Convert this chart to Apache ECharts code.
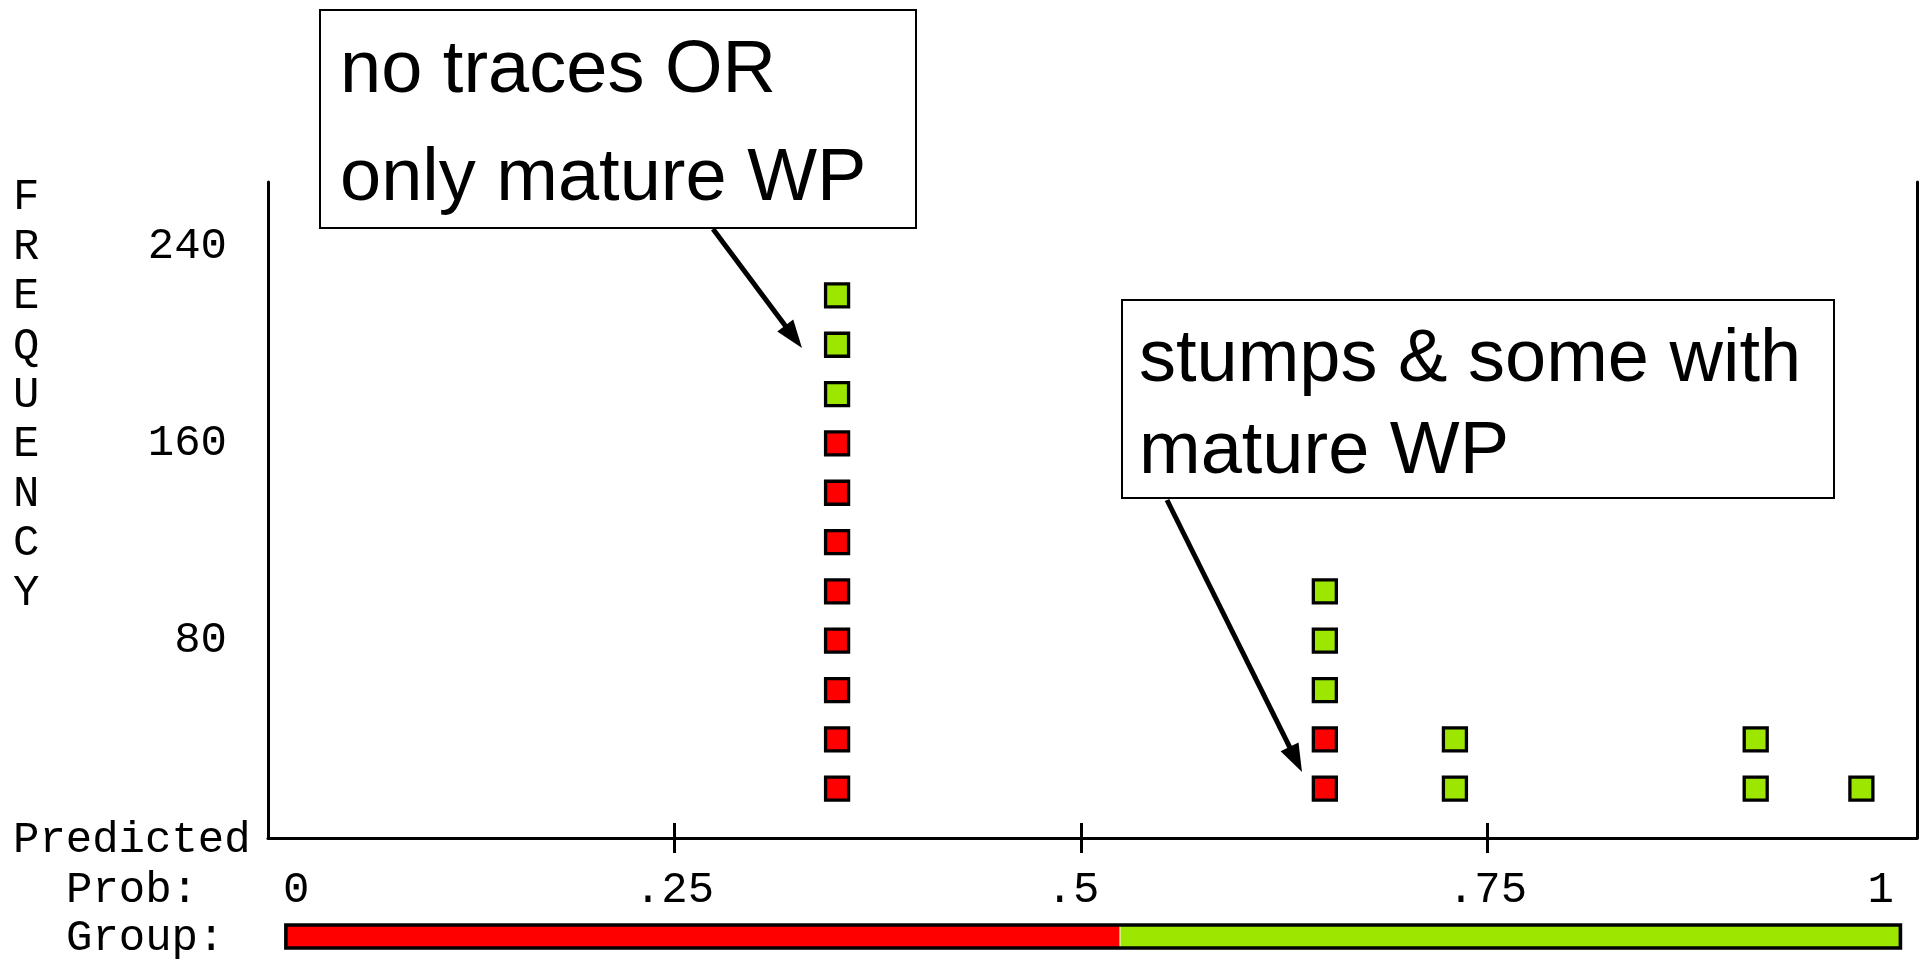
<!DOCTYPE html>
<html>
<head>
<meta charset="utf-8">
<script src="https://cdn.jsdelivr.net/npm/echarts@6/dist/echarts.min.js"></script>
<style>
  html, body { margin: 0; padding: 0; background: #fff; }
  #chart { width: 1929px; height: 961px; }
</style>
</head>
<body>
<div id="chart"></div>
<script>
// ---- data ----
const xTickValues = [0.25, 0.5, 0.75];
const xLabelValues = [0, 0.25, 0.5, 0.75, 1];
const yLabelValues = [80, 160, 240];
// each square = 20 cases
const redX   = [0.35, 0.35, 0.35, 0.35, 0.35, 0.35, 0.35, 0.35, 0.65, 0.65];
const redY   = [20, 40, 60, 80, 100, 120, 140, 160, 20, 40];
const greenX = [0.35, 0.35, 0.35, 0.65, 0.65, 0.65, 0.73, 0.73, 0.915, 0.915, 0.98];
const greenY = [180, 200, 220, 60, 80, 100, 20, 40, 20, 40, 20];
// group bar segments (predicted group along probability axis)
const groupFrom = [0.011, 0.524];
const groupTo   = [0.524, 1.004];
const groupName = ['0', '1'];
const yAxisTitle = 'FREQUENCY';
const note1 = ['no traces OR', 'only mature WP'];
const note2 = ['stumps & some with', 'mature WP'];

const RED = '#ff0000';
const GREEN = '#9de600';
const MONO = "'Liberation Mono', 'Courier New', monospace";
const SANS = "'Liberation Sans', Arial, sans-serif";
const XMAX = 1.0142;

const redData = redX.map((x, i) => [x, redY[i]]);
const greenData = greenX.map((x, i) => [x, greenY[i]]);
const groupData = groupFrom.map((f, i) => [f, groupTo[i], i]);
groupData.push([groupFrom[0], groupTo[groupTo.length - 1], 2]);

function fmtX(v) {
  if (v === 0) return '{z|0}';
  if (v === 1) return '1';
  if (v === 0.5) return '{h|.5}';
  return String(v).replace(/^0\./, '.');
}

function arrow(x0, y0, x1, y1, headLen, headHalf, w) {
  const dx = x1 - x0, dy = y1 - y0;
  const L = Math.sqrt(dx * dx + dy * dy);
  const ux = dx / L, uy = dy / L;
  const nx = -uy, ny = ux;
  const bx = x1 - ux * headLen, by = y1 - uy * headLen;
  return [
    { type: 'line', z: 50, shape: { x1: x0, y1: y0, x2: bx + ux * 2, y2: by + uy * 2 },
      style: { stroke: '#000', lineWidth: w } },
    { type: 'polygon', z: 50, shape: { points: [[x1, y1], [bx + nx * headHalf, by + ny * headHalf], [bx - nx * headHalf, by - ny * headHalf]] },
      style: { fill: '#000' } }
  ];
}

const chart = echarts.init(document.getElementById('chart'));
const monoLabel = { fontFamily: MONO, fontSize: 44, color: '#000' };

const option = {
  animation: false,
  backgroundColor: '#ffffff',
  grid: [
    { left: 268, right: 12, top: 182, bottom: 123, outerBoundsMode: 'none' },
    { left: 268, right: 12, top: 925, height: 23, outerBoundsMode: 'none' },
    { left: 268, right: 12, top: 182, bottom: 123, outerBoundsMode: 'none' }
  ],
  xAxis: [
    {
      gridIndex: 0, type: 'value', min: 0, max: XMAX,
      axisLine: { show: true, onZero: false, lineStyle: { color: '#000', width: 3 } },
      axisTick: { show: true, customValues: xTickValues, length: 15, lineStyle: { color: '#000', width: 3 } },
      axisLabel: Object.assign({
        customValues: xLabelValues, margin: 30, formatter: fmtX,
        alignMinLabel: 'left', alignMaxLabel: 'right',
        rich: {
          z: { fontFamily: MONO, fontSize: 44, color: '#000', padding: [0, 0, 0, 15] },
          h: { fontFamily: MONO, fontSize: 44, color: '#000', padding: [0, 16, 0, 0] }
        }
      }, monoLabel),
      splitLine: { show: false }
    },
    { gridIndex: 1, type: 'value', min: 0, max: XMAX, show: false },
    {
      gridIndex: 2, type: 'value', min: 0, max: XMAX, position: 'bottom',
      axisLine: { show: false },
      axisTick: { show: true, inside: true, customValues: xTickValues, length: 15, lineStyle: { color: '#000', width: 3 } },
      axisLabel: { show: false }, splitLine: { show: false }
    }
  ],
  yAxis: [
    {
      gridIndex: 0, type: 'value', min: 0, max: 266, interval: 80,
      axisLine: { show: true, onZero: false, lineStyle: { color: '#000', width: 3 } },
      axisTick: { show: false },
      axisLabel: Object.assign({ customValues: yLabelValues, margin: 41 }, monoLabel),
      splitLine: { show: false }
    },
    {
      gridIndex: 0, type: 'value', min: 0, max: 266, position: 'right',
      axisLine: { show: true, onZero: false, lineStyle: { color: '#000', width: 3 } },
      axisTick: { show: false }, axisLabel: { show: false }, splitLine: { show: false }
    },
    { gridIndex: 1, type: 'value', min: 0, max: 1, show: false },
    { gridIndex: 2, type: 'value', min: 0, max: 266, show: false }
  ],
  series: [
    {
      name: 'Group 0', type: 'scatter', xAxisIndex: 0, yAxisIndex: 0,
      symbol: 'rect', symbolSize: 23, data: redData,
      itemStyle: { color: RED, borderColor: '#000', borderWidth: 3.3, opacity: 1 }
    },
    {
      name: 'Group 1', type: 'scatter', xAxisIndex: 0, yAxisIndex: 0,
      symbol: 'rect', symbolSize: 23, data: greenData,
      itemStyle: { color: GREEN, borderColor: '#000', borderWidth: 3.3, opacity: 1 }
    },
    {
      name: 'Group', type: 'custom', xAxisIndex: 1, yAxisIndex: 2,
      data: groupData,
      renderItem: function (params, api) {
        const kind = api.value(2);
        const p0 = api.coord([api.value(0), 1]);
        const p1 = api.coord([api.value(1), 0]);
        const shape = { x: p0[0], y: p0[1], width: p1[0] - p0[0], height: p1[1] - p0[1] };
        if (kind === 2) {
          return { type: 'rect', shape: shape, style: { fill: null, stroke: '#000', lineWidth: 3.6 } };
        }
        return { type: 'rect', shape: shape,
          style: { fill: kind === 0 ? RED : GREEN, stroke: kind === 1 ? '#fff' : null, lineWidth: 1 } };
      }
    }
  ],
  graphic: [
    { type: 'text', left: 13, top: 173, z: 40,
      style: { text: yAxisTitle.split('').join('\n'), font: '44px ' + MONO, fill: '#000', lineHeight: 49.4, align: 'left' } },
    { type: 'text', x: 13, y: 840, z: 40,
      style: { text: 'Predicted', font: '44px ' + MONO, fill: '#000', verticalAlign: 'middle' } },
    { type: 'text', x: 66, y: 890, z: 40,
      style: { text: 'Prob:', font: '44px ' + MONO, fill: '#000', verticalAlign: 'middle' } },
    { type: 'text', x: 66, y: 938, z: 40,
      style: { text: 'Group:', font: '44px ' + MONO, fill: '#000', verticalAlign: 'middle' } },
    // annotation 1
    { type: 'rect', z: 40, shape: { x: 320, y: 10, width: 596, height: 218 },
      style: { fill: '#fff', stroke: '#000', lineWidth: 2 } },
    { type: 'text', x: 340, y: 72, z: 41,
      style: { text: note1[0], font: '74px ' + SANS, fill: '#000', verticalAlign: 'middle' } },
    { type: 'text', x: 340, y: 180, z: 41,
      style: { text: note1[1], font: '74px ' + SANS, fill: '#000', verticalAlign: 'middle' } },
    // annotation 2
    { type: 'rect', z: 40, shape: { x: 1122, y: 300, width: 712, height: 198 },
      style: { fill: '#fff', stroke: '#000', lineWidth: 2 } },
    { type: 'text', x: 1139, y: 361, z: 41,
      style: { text: note2[0], font: '74px ' + SANS, fill: '#000', verticalAlign: 'middle' } },
    { type: 'text', x: 1139, y: 453, z: 41,
      style: { text: note2[1], font: '74px ' + SANS, fill: '#000', verticalAlign: 'middle' } }
  ].concat(arrow(713, 229, 802, 348, 28, 10, 5))
   .concat(arrow(1167, 500, 1302, 772, 28, 10, 5))
};

chart.setOption(option);
</script>
</body>
</html>
